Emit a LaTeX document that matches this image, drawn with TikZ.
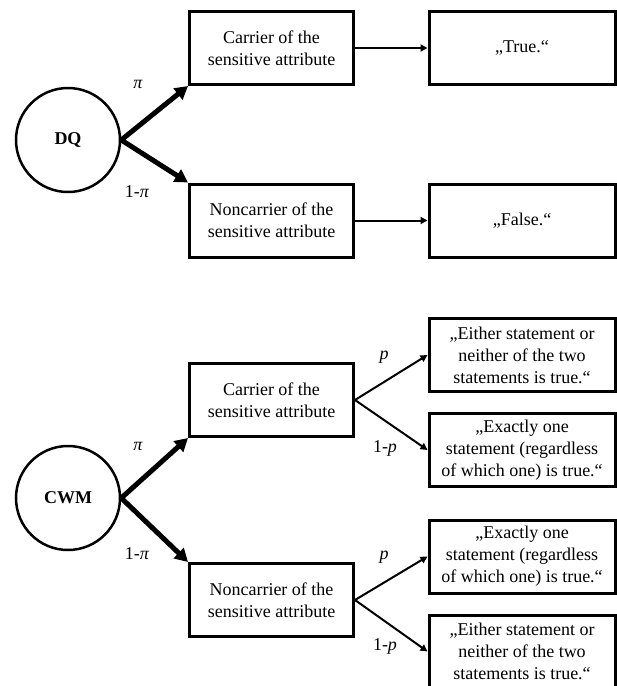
\documentclass[tikz,border=0pt]{standalone}
\usepackage{fontspec}
\setmainfont{Liberation Serif}
\usetikzlibrary{arrows.meta}
\begin{document}
\begin{tikzpicture}[x=1pt,y=-1pt,
  txt/.style={font=\fontsize{18}{22}\selectfont},
  box/.style={txt,draw,line width=3pt,minimum width=164pt,minimum height=73pt,align=center,inner sep=0pt},
  ansbox/.style={box,minimum width=186pt},
  circ/.style={draw,circle,line width=2.5pt,minimum size=104pt,inner sep=0pt,font=\fontsize{18}{22}\selectfont\bfseries},
  bigarrow/.style={line width=5pt,-{Triangle[length=13pt,width=14pt]}},
  thinarrow/.style={line width=2pt,-{Triangle[length=7pt,width=7pt]}},
  lab/.style={txt,inner sep=0pt}]
\clip (0,0) rectangle (617,686);
% ---- DQ ----
\node[circ] (dq) at (68,140) {DQ};
\node[box] (c1) at (271.5,48) {Carrier of the\\sensitive attribute};
\node[box] (n1) at (271.5,220.5) {Noncarrier of the\\sensitive attribute};
\node[ansbox] (t1) at (522,48) {„True.“};
\node[ansbox] (f1) at (522,220.5) {„False.“};
\draw[bigarrow] (dq.east) -- (c1.south west);
\draw[bigarrow] (dq.east) -- (n1.north west);
\draw[thinarrow] (c1.east) -- (t1.west);
\draw[thinarrow] (n1.east) -- (f1.west);
\node[lab] (pi1) at (138,84) {\textit{π}};
\node[lab] (qi1) at (137,192) {1-\textit{π}};
% ---- CWM ----
\node[circ] (cwm) at (68,498) {CWM};
\node[box] (c2) at (271.5,400) {Carrier of the\\sensitive attribute};
\node[box] (n2) at (271.5,600) {Noncarrier of the\\sensitive attribute};
\node[ansbox] (a1) at (522,355) {„Either statement or\\neither of the two\\statements is true.“};
\node[ansbox] (a2) at (522,450) {„Exactly one\\statement (regardless\\of which one) is true.“};
\node[ansbox] (a3) at (522,556.5) {„Exactly one\\statement (regardless\\of which one) is true.“};
\node[ansbox] (a4) at (522,651.5) {„Either statement or\\neither of the two\\statements is true.“};
\draw[bigarrow] (cwm.east) -- (c2.south west);
\draw[bigarrow] (cwm.east) -- (n2.north west);
\draw[thinarrow] (c2.east) -- (a1.west);
\draw[thinarrow] (c2.east) -- (a2.west);
\draw[thinarrow] (n2.east) -- (a3.west);
\draw[thinarrow] (n2.east) -- (a4.west);
\node[lab] (pi2) at (138,446) {\textit{π}};
\node[lab] (qi2) at (137,554) {1-\textit{π}};
\node[lab] (p1) at (384,357) {\textit{p}};
\node[lab] (q1) at (385,448) {1-\textit{p}};
\node[lab] (p2) at (384,557) {\textit{p}};
\node[lab] (q2) at (385,646) {1-\textit{p}};
\end{tikzpicture}
\end{document}
